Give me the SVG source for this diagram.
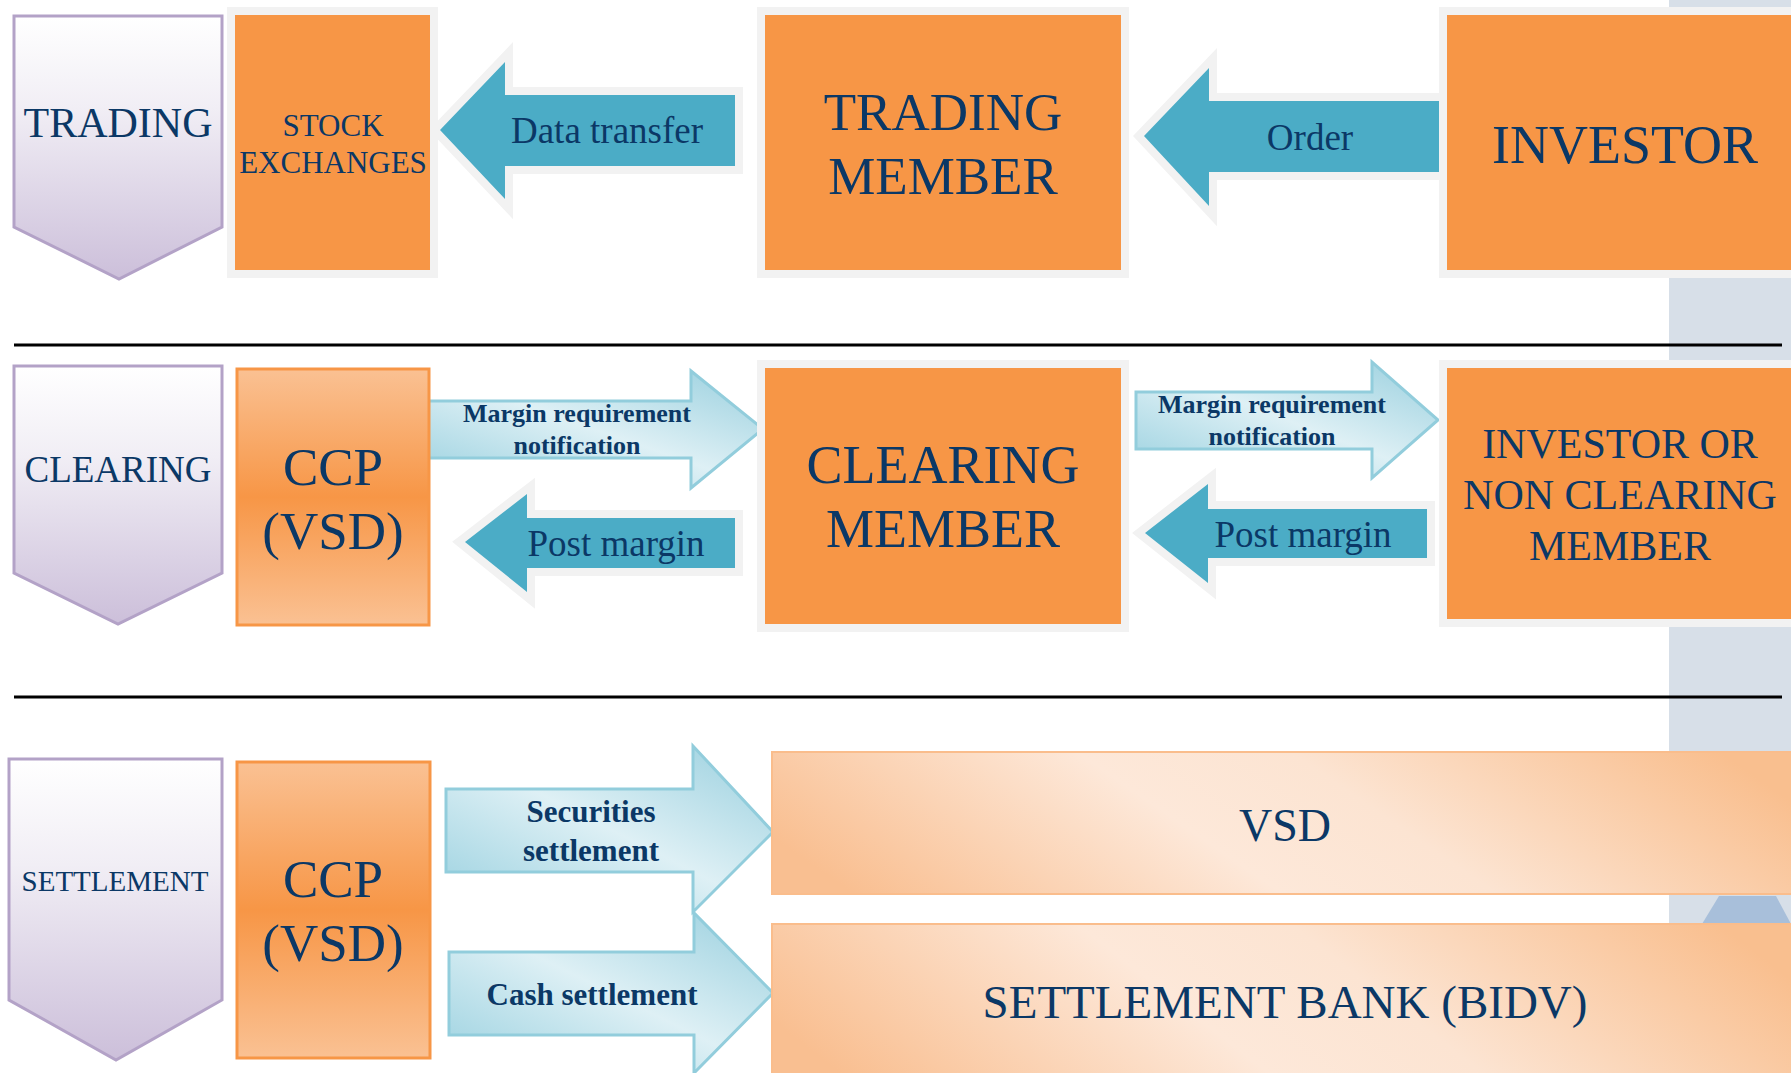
<svg xmlns="http://www.w3.org/2000/svg" width="1791" height="1073" viewBox="0 0 1791 1073">
<defs>
<linearGradient id="chev" x1="0" y1="0" x2="0" y2="1">
<stop offset="0" stop-color="#ffffff"/><stop offset="0.35" stop-color="#f1eef5"/><stop offset="1" stop-color="#ccbfda"/>
</linearGradient>
<linearGradient id="ccp" x1="0" y1="0" x2="0" y2="1">
<stop offset="0" stop-color="#fac193"/><stop offset="0.5" stop-color="#f79646"/><stop offset="1" stop-color="#fac193"/>
</linearGradient>
<linearGradient id="light" x1="0" y1="1" x2="1" y2="0">
<stop offset="0" stop-color="#98d0df"/><stop offset="0.5" stop-color="#def0f5"/><stop offset="1" stop-color="#98cfde"/>
</linearGradient>
<linearGradient id="peach" x1="0" y1="0.6" x2="1" y2="0.4">
<stop offset="0" stop-color="#f9bf91"/><stop offset="0.4" stop-color="#fde8d9"/><stop offset="0.6" stop-color="#fce4d2"/><stop offset="1" stop-color="#f9bf8f"/>
</linearGradient>
<style>
.t{font-family:"Liberation Serif","Times New Roman",serif;fill:#0b3866;text-anchor:middle}
.b{font-weight:bold}
.chev{fill:url(#chev);stroke:#b3a2c7;stroke-width:3}
.box{fill:#f79646;stroke:#f2f2f2;stroke-width:8}
.ccp{fill:url(#ccp);stroke:#f79646;stroke-width:3}
.peach{fill:url(#peach);stroke:#fabd8c;stroke-width:2}
.blue{fill:#4bacc6;stroke:#f2f2f2;stroke-width:16;paint-order:stroke;stroke-linejoin:miter;stroke-miterlimit:10}
.lt{fill:url(#light);stroke:#92cddc;stroke-width:3}
.sep{stroke:#000;stroke-width:3}
</style>
</defs>
<rect x="0" y="0" width="1791" height="1073" fill="#ffffff"/>
<g id="backdrop">
<rect x="1669" y="0" width="122" height="930" fill="#d7dfe8"/>
<polygon points="1719,896 1776,896 1791,924 1702,924" fill="#a8bfda"/>
</g>
<g id="separators">
<line class="sep" x1="14" y1="345" x2="1782" y2="345"/>
<line class="sep" x1="14" y1="697" x2="1782" y2="697"/>
</g>
<g id="connectors">
<polygon class="blue" points="440,130 505,62 505,95 735,95 735,166 505,166 505,199"/>
<text class="t" x="607" y="143" font-size="37">Data transfer</text>
<polygon class="blue" points="1144,136 1209,68 1209,101 1450,101 1450,172 1209,172 1209,206"/>
<text class="t" x="1310" y="150" font-size="37">Order</text>
<polygon class="lt" points="427,401 691,401 691,371 763,429 691,488 691,458 427,458"/>
<text class="t b" x="577" y="422" font-size="26">Margin requirement</text>
<text class="t b" x="577" y="454" font-size="26">notification</text>
<polygon class="blue" points="465,542 527,494 527,518 735,518 735,568 527,568 527,592"/>
<text class="t" x="616" y="556" font-size="37">Post margin</text>
<polygon class="lt" points="1136,392 1372,392 1372,362 1438,420 1372,478 1372,449 1136,449"/>
<text class="t b" x="1272" y="413" font-size="26">Margin requirement</text>
<text class="t b" x="1272" y="445" font-size="26">notification</text>
<polygon class="blue" points="1145,533 1208,484 1208,509 1427,509 1427,558 1208,558 1208,583"/>
<text class="t" x="1303" y="547" font-size="37">Post margin</text>
<polygon class="lt" points="446,789 693,789 693,746 773,832 693,912 693,872 446,872"/>
<text class="t b" x="591" y="822" font-size="31">Securities</text>
<text class="t b" x="591" y="861" font-size="31">settlement</text>
<polygon class="lt" points="449,952 694,952 694,913 773,993 694,1073 694,1035 449,1035"/>
<text class="t b" x="592" y="1005" font-size="31">Cash settlement</text>
</g>
<g id="trading-label">
<polygon class="chev" points="14,16 222,16 222,227 119,279 14,227"/>
<text class="t" x="118" y="137" font-size="42">TRADING</text>
</g>
<g id="stock-exchanges">
<rect class="box" x="231" y="11" width="203" height="263"/>
<text class="t" x="333" y="136" font-size="31">STOCK</text>
<text class="t" x="333" y="173" font-size="31">EXCHANGES</text>
</g>
<g id="trading-member">
<rect class="box" x="761" y="11" width="364" height="263"/>
<text class="t" x="943" y="130" font-size="53">TRADING</text>
<text class="t" x="943" y="194" font-size="53">MEMBER</text>
</g>
<g id="investor">
<rect class="box" x="1443" y="11" width="400" height="263"/>
<text class="t" x="1625" y="163" font-size="54">INVESTOR</text>
</g>
<g id="clearing-label">
<polygon class="chev" points="14,366 222,366 222,573 118,624 14,573"/>
<text class="t" x="118" y="482" font-size="37">CLEARING</text>
</g>
<g id="ccp-clearing">
<rect class="ccp" x="237" y="369" width="192" height="256"/>
<text class="t" x="333" y="485" font-size="53">CCP</text>
<text class="t" x="333" y="549" font-size="53">(VSD)</text>
</g>
<g id="clearing-member">
<rect class="box" x="761" y="364" width="364" height="264"/>
<text class="t" x="943" y="483" font-size="54">CLEARING</text>
<text class="t" x="943" y="547" font-size="54">MEMBER</text>
</g>
<g id="investor-ncm">
<rect class="box" x="1443" y="364" width="400" height="259"/>
<text class="t" x="1620" y="458" font-size="42">INVESTOR OR</text>
<text class="t" x="1620" y="509" font-size="42">NON CLEARING</text>
<text class="t" x="1620" y="560" font-size="42">MEMBER</text>
</g>
<g id="settlement-label">
<polygon class="chev" points="9,759 222,759 222,1000 116,1060 9,1000"/>
<text class="t" x="115" y="891" font-size="29">SETTLEMENT</text>
</g>
<g id="ccp-settlement">
<rect class="ccp" x="237" y="762" width="193" height="296"/>
<text class="t" x="333" y="897" font-size="53">CCP</text>
<text class="t" x="333" y="961" font-size="53">(VSD)</text>
</g>
<g id="vsd">
<rect class="peach" x="772" y="752" width="1030" height="142"/>
<text class="t" x="1285" y="841" font-size="46">VSD</text>
</g>
<g id="settlement-bank">
<rect class="peach" x="772" y="924" width="1030" height="160"/>
<text class="t" x="1285" y="1018" font-size="47">SETTLEMENT BANK (BIDV)</text>
</g>
</svg>
